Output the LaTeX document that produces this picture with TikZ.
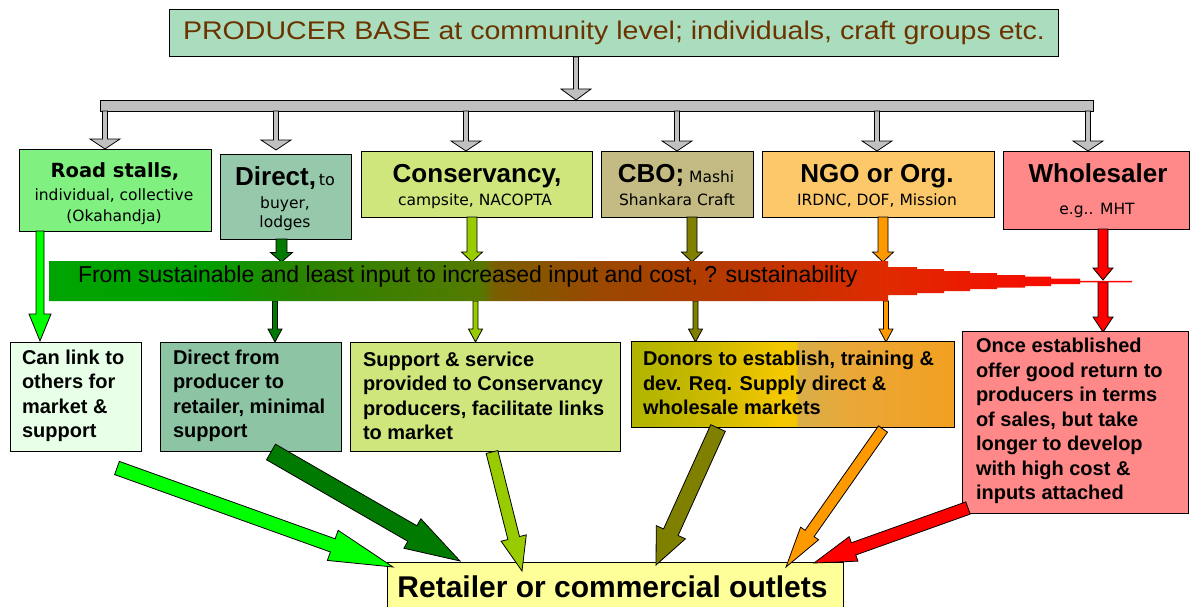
\documentclass[tikz,border=0pt]{standalone}
\usepackage{fontspec}
\setmainfont{Liberation Sans}
\newfontfamily\dvs{DejaVu Sans}
\newfontfamily\topfnt[FakeStretch=1.12]{Liberation Sans}
\usetikzlibrary{calc}

\definecolor{topfill}{HTML}{AADCBE}
\definecolor{toptext}{HTML}{6B3300}
\definecolor{barfill}{HTML}{C0C0C0}
\definecolor{roadfill}{HTML}{80F080}
\definecolor{directfill}{HTML}{96C8AB}
\definecolor{consfill}{HTML}{CFE67C}
\definecolor{cbofill}{HTML}{C4BB84}
\definecolor{ngofill}{HTML}{FCC86A}
\definecolor{wholefill}{HTML}{FF8888}
\definecolor{afill}{HTML}{E8FFE8}
\definecolor{bfill}{HTML}{8CC4A4}
\definecolor{retailfill}{HTML}{FFFF99}
\definecolor{cgreen}{HTML}{00FF00}
\definecolor{cdkgreen}{HTML}{007A00}
\definecolor{cyg}{HTML}{99CC00}
\definecolor{colive}{HTML}{7F7F00}
\definecolor{corange}{HTML}{FF9900}
\definecolor{cred}{HTML}{FF0000}
\definecolor{sh0}{HTML}{00A400}
\definecolor{sh1}{HTML}{00A000}
\definecolor{sh2}{HTML}{2A8400}
\definecolor{sh3}{HTML}{557A00}
\definecolor{sh4}{HTML}{7A5E00}
\definecolor{sh5}{HTML}{9A4800}
\definecolor{sh6}{HTML}{BB3600}
\definecolor{sh7}{HTML}{E02A00}
\definecolor{sh8}{HTML}{F01400}
\definecolor{sh9}{HTML}{FF0000}
\definecolor{dd0}{HTML}{B0B400}
\definecolor{dd1}{HTML}{C8B800}
\definecolor{dd2}{HTML}{F4C800}
\definecolor{dd3}{HTML}{D8AE48}
\definecolor{dd4}{HTML}{EAA838}
\definecolor{dd5}{HTML}{F2A020}

\pgfdeclarehorizontalshading{barshade}{100bp}{color(0bp)=(sh0); color(25bp)=(sh0); color(31.97bp)=(sh1); color(36.6bp)=(sh2); color(44.9bp)=(sh3); color(45.6bp)=(sh4); color(50.4bp)=(sh5); color(57.4bp)=(sh6); color(63.7bp)=(sh7); color(68.9bp)=(sh8); color(75bp)=(sh9); color(100bp)=(sh9)}
\pgfdeclarehorizontalshading{dshade}{100bp}{color(0bp)=(dd0); color(25bp)=(dd0); color(35.7bp)=(dd1); color(48bp)=(dd2); color(50.5bp)=(dd2); color(50.9bp)=(dd3); color(59bp)=(dd4); color(75bp)=(dd5); color(100bp)=(dd5)}

\newcommand\blockarrow[6]{%
  \coordinate (bah) at ($(#3)!#6!(#2)$);
  \path[#1] ($(#2)!#4!90:(#3)$) -- ($(bah)!#4!90:(#3)$) -- ($(bah)!#5!90:(#3)$) -- (#3)
    -- ($(bah)!#5!-90:(#3)$) -- ($(bah)!#4!-90:(#3)$) -- ($(#2)!#4!-90:(#3)$) -- cycle;
}

\tikzset{
  box/.style={draw=black, line width=1pt, rectangle, inner sep=0pt, outer sep=0pt},
  grayarr/.style={fill=barfill, draw=black, line width=0.8pt},
  carr/.style={fill=#1, draw=black, line width=0.8pt},
  head/.style={font=\fontsize{26}{30}\selectfont\bfseries},
  small/.style={font=\dvs\fontsize{15.5}{19}\selectfont},
  lowtext/.style={align=left, font=\fontsize{20}{24.5}\selectfont\bfseries, inner sep=0pt},
}

\begin{document}
\begin{tikzpicture}[x=1pt,y=-1pt, every node/.style={inner sep=0pt, outer sep=0pt}]
\useasboundingbox (0,0) rectangle (1190,607);

% ---------- top box and bar
\node[box, fill=topfill, minimum width=889pt, minimum height=47pt] (top) at (613.5,33.5) {};
\node[anchor=base, text=toptext, font=\topfnt\fontsize{25.5}{30}\selectfont] (toptxt) at (614,40) {PRODUCER BASE at community level; individuals, craft groups etc.};
\node[box, fill=barfill, minimum width=993pt, minimum height=11pt, line width=0.8pt] (bar) at (596.5,105.5) {};

\coordinate (ga0s) at (576,57);   \coordinate (ga0e) at (576,100);
\coordinate (ga1s) at (105,111);  \coordinate (ga1e) at (105,149);
\coordinate (ga2s) at (276,111);  \coordinate (ga2e) at (276,150);
\coordinate (ga3s) at (466,111);  \coordinate (ga3e) at (466,151);
\coordinate (ga4s) at (677,111);  \coordinate (ga4e) at (677,151);
\coordinate (ga5s) at (877,111);  \coordinate (ga5e) at (877,151);
\coordinate (ga6s) at (1088,111); \coordinate (ga6e) at (1088,151);
\blockarrow{grayarr}{ga0s}{ga0e}{2.5pt}{15pt}{11pt}
\blockarrow{grayarr}{ga1s}{ga1e}{2.5pt}{15pt}{10pt}
\blockarrow{grayarr}{ga2s}{ga2e}{2.5pt}{15pt}{10pt}
\blockarrow{grayarr}{ga3s}{ga3e}{2.5pt}{15pt}{10pt}
\blockarrow{grayarr}{ga4s}{ga4e}{2.5pt}{15pt}{10pt}
\blockarrow{grayarr}{ga5s}{ga5e}{2.5pt}{15pt}{10pt}
\blockarrow{grayarr}{ga6s}{ga6e}{2.5pt}{15pt}{10pt}

% ---------- header boxes
\node[box, fill=roadfill, minimum width=192pt, minimum height=82pt] (road) at (115,190) {};
\node[anchor=base, font=\dvs\bfseries\fontsize{19.5}{22}\selectfont] (roadt1) at (115,177) {Road stalls,};
\node[anchor=base, small] (roadt2) at (114,200) {individual, collective};
\node[anchor=base, small] (roadt3) at (114,221) {(Okahandja)};

\node[box, fill=directfill, minimum width=131pt, minimum height=85pt] (direct) at (285.5,196.5) {};
\node[anchor=base] (directt1) at (285,185) {{\fontsize{26}{30}\selectfont\bfseries Direct,}{\dvs\fontsize{16}{19}\selectfont\,to}};
\node[anchor=base, small] (directt2) at (285,208) {buyer,};
\node[anchor=base, small] (directt3) at (285,227) {lodges};

\node[box, fill=consfill, minimum width=231pt, minimum height=66pt] (cons) at (476.5,184) {};
\node[anchor=base, head] (const1) at (477,182) {Conservancy,};
\node[anchor=base, small] (const2) at (475,205) {campsite, NACOPTA};

\node[box, fill=cbofill, minimum width=152pt, minimum height=66pt] (cbo) at (677,184) {};
\node[anchor=base] (cbot1) at (676,182) {{\fontsize{26}{30}\selectfont\bfseries CBO;}{\dvs\fontsize{15.5}{19}\selectfont\ Mashi}};
\node[anchor=base, small] (cbot2) at (677,205) {Shankara Craft};

\node[box, fill=ngofill, minimum width=232pt, minimum height=66pt] (ngo) at (878,184) {};
\node[anchor=base, head] (ngot1) at (877,182) {NGO or Org.};
\node[anchor=base, small] (ngot2) at (877,205) {IRDNC, DOF, Mission};

\node[box, fill=wholefill, minimum width=186pt, minimum height=78pt] (whole) at (1096,190) {};
\node[anchor=base, head] (wholet1) at (1098,182) {Wholesaler};
\node[anchor=base, small] (wholet2) at (1097,214) {e.g.. MHT};

% ---------- vertical colour arrows
\coordinate (vr1s) at (40,231);    \coordinate (vr1e) at (40,341);
\coordinate (vd1s) at (281.5,239); \coordinate (vd1e) at (281.5,262);
\coordinate (vd2s) at (275,301);   \coordinate (vd2e) at (275,342);
\coordinate (vc1s) at (472,217);   \coordinate (vc1e) at (472,262);
\coordinate (vc2s) at (475.5,301); \coordinate (vc2e) at (475.5,342);
\coordinate (vb1s) at (692,217);   \coordinate (vb1e) at (692,262);
\coordinate (vb2s) at (695.5,301); \coordinate (vb2e) at (695.5,342);
\coordinate (vn1s) at (883,217);   \coordinate (vn1e) at (883,262);
\coordinate (vn2s) at (886,301);   \coordinate (vn2e) at (886,342);
\coordinate (vw1s) at (1103,229);  \coordinate (vw1e) at (1103,280);
\coordinate (vw2s) at (1103,282);  \coordinate (vw2e) at (1103,332);
\blockarrow{carr=cgreen}{vr1s}{vr1e}{4pt}{11pt}{27pt}
\blockarrow{carr=cdkgreen}{vd1s}{vd1e}{5.5pt}{11pt}{9.5pt}
\blockarrow{carr=cdkgreen}{vd2s}{vd2e}{2.5pt}{7pt}{13pt}
\blockarrow{carr=cyg}{vc1s}{vc1e}{5pt}{10.5pt}{10pt}
\blockarrow{carr=cyg}{vc2s}{vc2e}{2.5pt}{7pt}{13pt}
\blockarrow{carr=colive}{vb1s}{vb1e}{5pt}{10.5pt}{10pt}
\blockarrow{carr=colive}{vb2s}{vb2e}{2.5pt}{7pt}{13pt}
\blockarrow{carr=corange}{vn1s}{vn1e}{5pt}{10.5pt}{10pt}
\blockarrow{carr=corange}{vn2s}{vn2e}{2.5pt}{7pt}{13pt}
\blockarrow{carr=cred}{vw1s}{vw1e}{5pt}{10pt}{12pt}
\blockarrow{carr=cred}{vw2s}{vw2e}{5pt}{10pt}{15pt}

% ---------- gradient band
\path[shading=barshade] (49,261) -- (888,261) -- (888,267) -- (917,267) -- (917,269) -- (944,269)
  -- (944,271) -- (970,271) -- (970,273) -- (997,273) -- (997,275) -- (1025,275) -- (1025,276.5)
  -- (1051,276.5) -- (1051,278.5) -- (1080,278.5) -- (1080,280.8) -- (1132,280.8) -- (1132,282.4)
  -- (1080,282.4) -- (1080,284) -- (1051,284) -- (1051,286) -- (1025,286) -- (1025,287.5)
  -- (997,287.5) -- (997,289) -- (970,289) -- (970,291) -- (944,291) -- (944,293) -- (917,293)
  -- (917,295) -- (888,295) -- (888,301) -- (49,301) -- cycle;
\node[anchor=base west, font=\fontsize{23}{27}\selectfont] (bandtxt) at (78,282) {From sustainable and least input to increased input and cost, ? sustainability};

% ---------- lower boxes
\node[box, fill=afill, minimum width=131pt, minimum height=109pt] (boxa) at (75.5,396.5) {};
\node[lowtext, anchor=west] (boxat) at (22,396) {Can link to\\others for\\market \&\\support};
\node[box, fill=bfill, minimum width=181pt, minimum height=109pt] (boxb) at (250.5,396.5) {};
\node[lowtext, anchor=west] (boxbt) at (173,396) {Direct from\\producer to\\retailer, minimal\\support};
\node[box, fill=consfill, minimum width=270pt, minimum height=109pt] (boxc) at (485.5,396.5) {};
\node[lowtext, anchor=west] (boxct) at (363,396) {Support \& service\\provided to Conservancy\\producers, facilitate links\\to market};
\node[box, shading=dshade, minimum width=323pt, minimum height=86pt] (boxd) at (792.5,384) {};
\node[lowtext, anchor=west] (boxdt) at (643,383) {Donors to establish, training \&\\dev. Req. Supply direct \&\\wholesale markets};
\node[box, fill=wholefill, minimum width=226pt, minimum height=182pt] (boxe) at (1075,422) {};
\node[lowtext, anchor=west] (boxet) at (976,421) {Once established\\offer good return to\\producers in terms\\of sales, but take\\longer to develop\\with high cost \&\\inputs attached};

% ---------- retailer box
\node[box, fill=retailfill, minimum width=456pt, minimum height=50pt] (retail) at (615,587) {};
\node[anchor=base, font=\fontsize{30}{34}\selectfont\bfseries] (retailt) at (612.5,597) {Retailer or commercial outlets};

% ---------- big arrows to retailer
\coordinate (bg1s) at (117,468); \coordinate (bg1e) at (393,567);
\coordinate (bg2s) at (271,452); \coordinate (bg2e) at (460,561);
\coordinate (bg3s) at (492,452); \coordinate (bg3e) at (522,571);
\coordinate (bg4s) at (718,428); \coordinate (bg4e) at (656,565);
\coordinate (bg5s) at (883,429); \coordinate (bg5e) at (786,567);
\coordinate (bg6s) at (968,508); \coordinate (bg6e) at (814,563);
\blockarrow{carr=cgreen}{bg1s}{bg1e}{7pt}{16pt}{64pt}
\blockarrow{carr=cdkgreen}{bg2s}{bg2e}{9pt}{17pt}{55pt}
\blockarrow{carr=cyg}{bg3s}{bg3e}{6pt}{13pt}{34pt}
\blockarrow{carr=colive}{bg4s}{bg4e}{8pt}{16pt}{36pt}
\blockarrow{carr=corange}{bg5s}{bg5e}{5.5pt}{11pt}{41pt}
\blockarrow{carr=cred}{bg6s}{bg6e}{6.5pt}{13pt}{42pt}
\end{tikzpicture}
\end{document}
